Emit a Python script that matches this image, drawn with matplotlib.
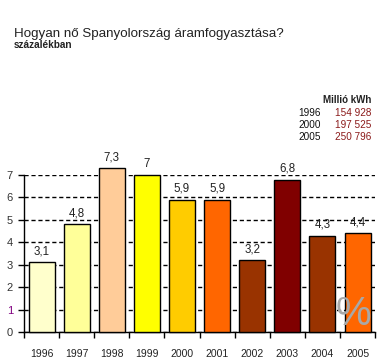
import matplotlib.pyplot as plt

plt.rcParams['font.family'] = ['Liberation Sans', 'DejaVu Sans']

TITLE = 'Hogyan nő Spanyolország áramfogyasztása?'
SUBTITLE = 'százalékban'

years = ['1996', '1997', '1998', '1999', '2000', '2001', '2002', '2003', '2004', '2005']
growth = [3.1, 4.8, 7.3, 7.0, 5.9, 5.9, 3.2, 6.8, 4.3, 4.4]
colors = ['#FFFFCC', '#FFFF99', '#FFCC99', '#FFFF00', '#FFCC00',
          '#FF6600', '#993300', '#800000', '#993300', '#FF6600']

table_years = ['1996', '2000', '2005']
table_values = ['154 928', '197 525', '250 796']
table_unit = 'Millió kWh'


def fmt(v):
    if v == int(v):
        return str(int(v))
    return ('%.1f' % v).replace('.', ',')


fig = plt.figure(figsize=(3.85, 3.64), dpi=100)
ax = fig.add_axes([0.0623, 0.088, 0.912, 0.431])

x = range(len(years))
bars = ax.bar(x, growth, width=0.74, color=colors, edgecolor='black',
              linewidth=1, zorder=3, clip_on=False)
for b, v in zip(bars, growth):
    ax.text(b.get_x() + b.get_width() / 2, v + 0.22, fmt(v), ha='center',
            va='bottom', fontsize=8.3, color='#222222')

ax.set_xlim(-0.5, len(years) - 0.5)
ax.set_ylim(0, 7)
ax.set_yticks(range(0, 8))
ax.set_yticklabels([str(i) for i in range(0, 8)], fontsize=8, color='#333333')
ax.get_yticklabels()[1].set_color('#800080')

ax.set_xticks([i + 0.5 for i in range(-1, len(years))], minor=False)
ax.set_xticklabels([])
ax.set_xticks(list(x), minor=True)
ax.set_xticklabels(years, minor=True, fontsize=7.5, color='#222222')
ax.tick_params(axis='x', which='major', length=4, width=1, direction='out')
ax.tick_params(axis='x', which='minor', length=0, pad=12)
ax.tick_params(axis='y', length=4, width=1, direction='out', pad=4)

ax.grid(axis='y', linestyle=(0, (3, 2)), linewidth=1, color='black', zorder=1)
for s in ['top', 'right']:
    ax.spines[s].set_visible(False)
ax.spines['left'].set_linewidth(1)
ax.spines['bottom'].set_linewidth(1)

fig.text(14 / 385, 1 - 33.5 / 364, TITLE, fontsize=9.6, va='center', ha='left',
         color='#222222')
fig.text(14 / 385, 1 - 45 / 364, SUBTITLE, fontsize=7.2, weight='bold',
         va='center', ha='left', color='#222222')

fig.text(371 / 385, 1 - 100 / 364, table_unit, fontsize=7, weight='bold',
         ha='right', va='center', color='#222222')
for i, (yr, val) in enumerate(zip(table_years, table_values)):
    yy = 1 - (113 + 12 * i) / 364
    fig.text(321 / 385, yy, yr, fontsize=7.2, ha='right', va='center', color='#111111')
    fig.text(371 / 385, yy, val, fontsize=7.2, ha='right', va='center', color='#8B1A1A')

fig.text(353 / 385, 1 - 314 / 364, '%', fontsize=29, ha='center', va='center',
         color='#A8A8A8', zorder=10)

fig.savefig('out.png', dpi=100)
